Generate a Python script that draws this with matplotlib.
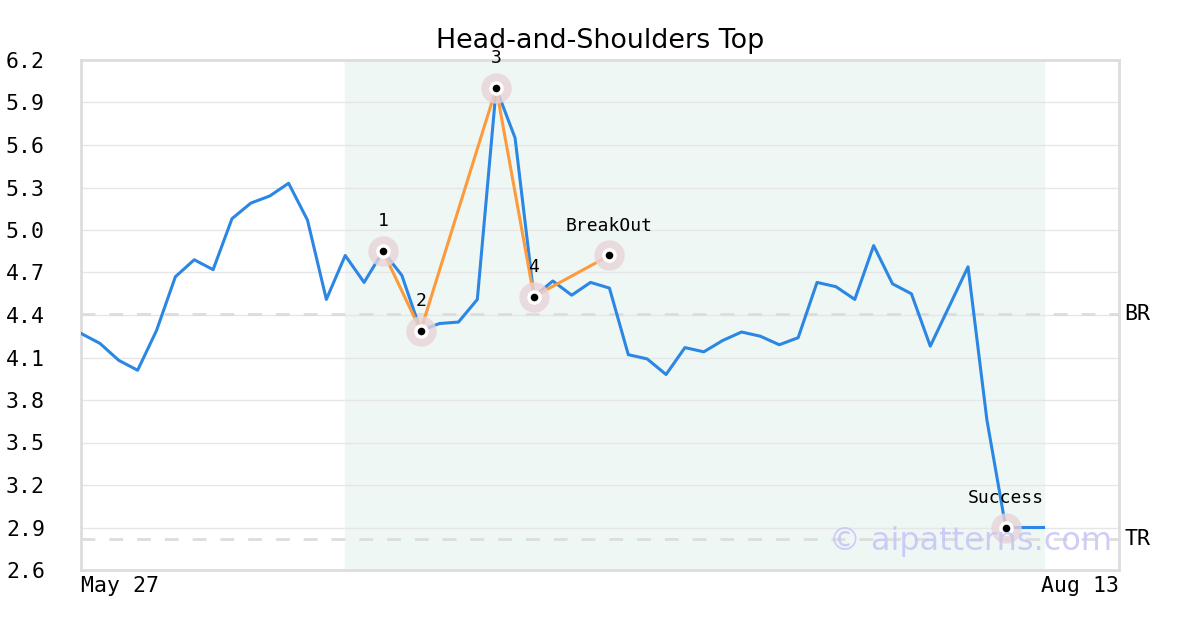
import matplotlib
matplotlib.use("Agg")
import matplotlib.pyplot as plt
from matplotlib.ticker import FixedLocator

title = "Head-and-Shoulders Top"
prices = [4.27, 4.20, 4.08, 4.01, 4.29, 4.67, 4.79, 4.72, 5.08, 5.19,
          5.24, 5.33, 5.07, 4.51, 4.82, 4.63, 4.85, 4.68, 4.29, 4.34,
          4.35, 4.51, 6.00, 5.65, 4.53, 4.64, 4.54, 4.63, 4.59, 4.12,
          4.09, 3.98, 4.17, 4.14, 4.22, 4.28, 4.25, 4.19, 4.24, 4.63,
          4.60, 4.51, 4.89, 4.62, 4.55, 4.18, 4.46, 4.74, 3.66, 2.90,
          2.90, 2.90]
x_first_label = "May 27"
x_last_label = "Aug 13"
x_axis_end = 55
pattern_idx = [16, 18, 22, 24, 28]
pattern_val = [4.85, 4.29, 6.00, 4.53, 4.82]
pattern_labels = ["1", "2", "3", "4", "BreakOut"]
success_idx = 49
success_val = 2.90
success_label = "Success"
shade_start, shade_end = 14, 51
br_level = 4.41
tr_level = 2.82
y_ticks = [2.6, 2.9, 3.2, 3.5, 3.8, 4.1, 4.4, 4.7, 5.0, 5.3, 5.6, 5.9, 6.2]

mono = "DejaVu Sans Mono"

fig = plt.figure(figsize=(12, 6.3), dpi=100)
ax = fig.add_axes([81/1200, 60/630, 1038/1200, 510/630])
ax.set_xlim(0, x_axis_end)
ax.set_ylim(2.6, 6.2)

ax.axvspan(shade_start, shade_end, color="#eff7f4", zorder=0)
ax.yaxis.set_major_locator(FixedLocator(y_ticks))
ax.grid(axis="y", color="#e6e6e6", linewidth=1, zorder=1)
ax.set_axisbelow(True)

for lvl in (br_level, tr_level):
    ax.axhline(lvl, color="#dddddd", linewidth=2, linestyle=(0, (5, 5)), zorder=2)

ax.plot(range(len(prices)), prices, color="#2b87e3", linewidth=2.2, zorder=3)
ax.plot(pattern_idx, pattern_val, color="#fb9b3d", linewidth=2.2, zorder=4)

mx = pattern_idx + [success_idx]
my = pattern_val + [success_val]
ax.scatter(mx, my, s=480, color="#e8d3d8", alpha=0.8, zorder=5, linewidths=0)
ax.scatter(mx, my, s=110, color="white", zorder=6, linewidths=0)
ax.scatter(mx, my, s=30, color="black", zorder=7, linewidths=0)

for lab, xi, yv in zip(pattern_labels + [success_label], mx, my):
    ax.annotate(lab, (xi, yv), xytext=(0, 15), textcoords="offset points",
                ha="center", va="bottom", fontsize=13, family=mono,
                zorder=8)

ax.text(1.005, br_level, "BR", transform=ax.get_yaxis_transform(), ha="left",
        va="center", fontsize=15.5, family=mono)
ax.text(1.005, tr_level, "TR", transform=ax.get_yaxis_transform(), ha="left",
        va="center", fontsize=15.5, family=mono)

ax.set_xticks([0, x_axis_end])
ax.set_xticklabels([x_first_label, x_last_label], family=mono, fontsize=15.5)
labs = ax.get_xticklabels()
labs[0].set_ha("left")
labs[1].set_ha("right")
ax.tick_params(axis="x", length=0, pad=4)
ax.tick_params(axis="y", length=0, pad=26)
for t in ax.get_yticklabels():
    t.set_family(mono)
    t.set_fontsize(15.5)

for s in ax.spines.values():
    s.set_color("#dddddd")
    s.set_linewidth(2)

ax.set_title(title, fontsize=19.4, family="DejaVu Sans", pad=9)
ax.text(0.993, 0.055, "© aipatterns.com", transform=ax.transAxes, ha="right",
        va="center", fontsize=23, color="#c5c5f7", alpha=0.85, zorder=9)

fig.savefig("out.png", dpi=100)
